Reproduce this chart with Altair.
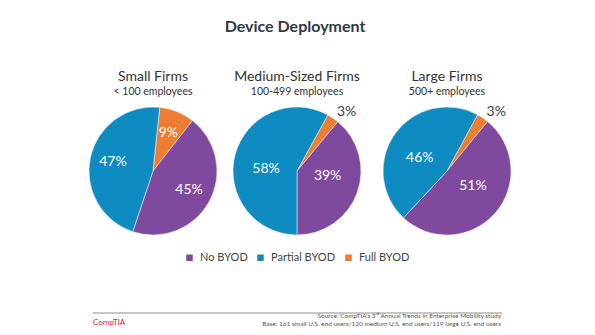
import math
import altair as alt
import pandas as pd

# ---- data ----
series = ["Full BYOD", "No BYOD", "Partial BYOD"]          # clockwise drawing order
legend_order = ["No BYOD", "Partial BYOD", "Full BYOD"]
small_vals = [9, 45, 47]
medium_vals = [3, 39, 58]
large_vals = [3, 51, 46]
firm_titles = ["Small Firms", "Medium-Sized Firms", "Large Firms"]
firm_subtitles = ["< 100 employees", "100-499 employees", "500+ employees"]

colors = ["#7f4a9e", "#0e8bc0", "#ed7d31"]
FONT = "Lato"

# ---- layout (style) ----
centers_x = [153, 297, 447]
center_y = 171
R = 64
start_deg = [6, 28.8, 28.5]
inner_label_r = [41, 31, 30]


def make_df(vals):
    return pd.DataFrame({
        "series": series,
        "value": vals,
        "label": [f"{v}%" for v in vals],
        "ord": list(range(len(series))),
    })


color_scale = alt.Scale(domain=legend_order, range=colors)


def pie(vals, cx, deg, lr, show_legend=False):
    df = make_df(vals)
    off = math.radians(deg)
    theta = alt.Theta("value:Q", stack=True,
                      scale=alt.Scale(range=[off, off + 2 * math.pi], zero=True, nice=False))
    legend = alt.Legend(
        orient="none", legendX=184, legendY=252, direction="horizontal",
        title=None, symbolType="square", symbolSize=42, symbolStrokeWidth=0,
        labelFont=FONT, labelFontSize=11, labelColor="#444444",
        columnPadding=7, labelOffset=5,
    ) if show_legend else None
    color = alt.Color("series:N", scale=color_scale, sort=legend_order,
                      legend=legend)
    base = alt.Chart(df).encode(
        theta=theta,
        order=alt.Order("ord:Q"),
        x=alt.value(cx),
        y=alt.value(center_y),
    )
    arcs = base.mark_arc(radius=R, stroke="white", strokeWidth=0.5).encode(color=color)
    inside = base.transform_filter("datum.value >= 5").mark_text(
        radius=lr, font=FONT, fontSize=14, color="white"
    ).encode(text="label:N")
    outside = base.transform_filter("datum.value < 5").mark_text(
        radius=71, font=FONT, fontSize=14, color="#404040", align="left"
    ).encode(text="label:N")
    return alt.layer(arcs, inside, outside)


def text_layer(txt, x, y, size, color="#333333", weight="normal", align="center",
               style="normal", font=FONT):
    return alt.Chart(pd.DataFrame({"t": [txt]})).mark_text(
        font=font, fontSize=size, color=color, fontWeight=weight, align=align,
        baseline="middle", fontStyle=style
    ).encode(text="t:N", x=alt.value(x), y=alt.value(y))


layers = [
    pie(small_vals, centers_x[0], start_deg[0], inner_label_r[0], show_legend=True),
    pie(medium_vals, centers_x[1], start_deg[1], inner_label_r[1]),
    pie(large_vals, centers_x[2], start_deg[2], inner_label_r[2]),
    text_layer("Device Deployment", 295, 27, 16, color="#2e3a45", weight="bold"),
]
for i in range(3):
    layers.append(text_layer(firm_titles[i], centers_x[i], 77, 14, color="#333333"))
    layers.append(text_layer(firm_subtitles[i], centers_x[i], 92, 10.5, color="#333333"))

rule = alt.Chart(pd.DataFrame({"a": [0]})).mark_rule(color="#8c8c8c", strokeWidth=1).encode(
    x=alt.value(93), x2=alt.value(502), y=alt.value(313)
)
layers.append(rule)
layers.append(text_layer("CompTIA", 93, 323, 8, color="#d9262e", align="left"))
layers.append(text_layer("Source: CompTIA's 3ʳᵈ Annual Trends in Enterprise Mobility study",
                         501, 316, 6.5, color="#555555", align="right"))
layers.append(text_layer("Base: 161 small U.S. end users/120 medium U.S. end users/119 large U.S. end users",
                         501, 324, 6.5, color="#555555", align="right"))

chart = alt.layer(*layers).resolve_scale(theta="independent").properties(
    width=595, height=335,
    autosize=alt.AutoSizeParams(type="none"),
    padding=0,
    background="white",
).configure_view(stroke=None)

chart.save("out.html", embed_options={"renderer": "svg", "actions": False})
